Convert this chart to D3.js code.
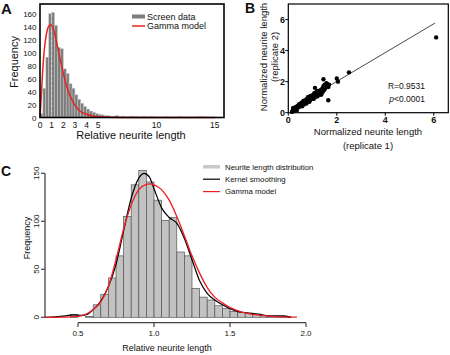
<!DOCTYPE html>
<html><head><meta charset="utf-8">
<script src="https://cdn.jsdelivr.net/npm/d3@7"></script>
<style>
body{margin:0;background:#fff}
svg{display:block}
text{font-family:'Liberation Sans',Arial,Helvetica,sans-serif;fill:#111}
</style>
</head><body>
<svg id="chart" width="450" height="355"></svg>
<script>
// ---------- Panel A data ----------
const binWidthA = 0.25;
const histA = [6, 45, 93, 160, 162, 142, 108, 106, 75, 68, 52, 45, 35, 28, 22, 17, 13, 10, 8, 6, 5, 4, 3, 3, 2, 2, 3, 1, 2, 1, 1, 2, 1, 1, 0, 1, 1, 0, 1, 0, 0, 0, 0, 1, 0, 0, 0, 0, 1, 0, 0, 0, 0, 0, 1, 1, 0, 0, 0, 0];
const gammaAx = [0, 0.1, 0.2, 0.3, 0.45, 0.6, 0.75, 0.9, 1.0, 1.1, 1.25, 1.5, 1.75, 2.0, 2.25, 2.5, 2.75, 3.0, 3.3, 3.6, 4.0, 4.5, 5.0, 6.0, 7.0, 8.0, 10, 15];
const gammaAy = [0, 30, 62, 90, 117, 133, 141, 143, 142, 139, 130, 110, 88, 68, 51, 37, 27, 19, 12, 8, 5, 2.5, 1.2, 0.4, 0.1, 0, 0, 0];
const xTicksA = [0, 1, 2, 3, 4, 5, 10, 15];
const yTicksA = [0, 20, 40, 60, 80, 100, 120, 140, 160];
const legendA = ["Screen data", "Gamma model"];

// ---------- Panel B data ----------
const rep1 = [0.15,0.18,0.2,0.22,0.25,0.27,0.3,0.32,0.35,0.37,0.4,0.42,0.45,0.47,0.5,0.52,0.55,0.57,0.6,0.62,0.65,0.67,0.7,0.72,0.75,0.77,0.8,0.82,0.85,0.87,0.9,0.92,0.95,0.97,1.0,1.02,1.05,1.07,1.1,1.1,1.12,1.15,1.17,1.2,1.22,1.25,1.27,1.3,1.32,1.35,1.37,1.4,1.42,1.45,1.45,1.47,1.5,1.52,1.55,1.57,1.6,1.62,1.65,1.65,1.68,2.0,2.05,2.5,6.1,0.2,0.35,0.28,0.45,0.6,0.75,0.9,1.05,1.2,1.35,0.24,0.4,0.55,0.68,0.84,1.0,1.18,1.3,1.5,1.58];
const rep2 = [0.05,0.12,0.2,0.1,0.28,0.18,0.35,0.22,0.3,0.42,0.33,0.48,0.38,0.52,0.45,0.6,0.5,0.42,0.62,0.75,0.55,0.68,0.8,0.6,0.72,0.9,0.75,1.02,0.82,0.7,0.95,1.08,0.88,1.0,1.12,0.95,1.05,1.25,1.6,1.0,1.15,1.3,1.08,1.2,1.4,1.15,1.3,1.22,1.45,1.3,1.2,1.55,1.35,2.15,1.7,1.45,1.8,1.6,1.75,1.9,1.85,1.7,0.8,1.65,1.8,2.2,2.0,2.6,4.85,0.3,0.15,0.25,0.55,0.5,0.6,0.8,0.9,1.05,1.15,0.16,0.4,0.65,0.7,0.95,1.05,1.35,1.38,1.55,1.72];
const fitX = [0.15, 6.05];
const fitY = [0.3, 5.77];
const ticksB = [0, 2, 4, 6];
const statR = "R=0.9531";
const statP = "<0.0001";

// ---------- Panel C data ----------
const binWidthC = 0.05;
const binStartC = [0.45,0.50,0.55,0.60,0.65,0.70,0.75,0.80,0.85,0.90,0.95,1.00,1.05,1.10,1.15,1.20,1.25,1.30,1.35,1.40,1.45,1.50,1.55,1.60,1.65,1.70,1.75,1.80,1.85];
const countsC = [3,0,1,13,24,41,64,105,138,153,141,122,101,104,68,64,30,21,18,12,9,6,5,4,3,2,1,1,1];
const kernelCx = [0.28,0.35,0.42,0.47,0.52,0.56,0.6,0.65,0.7,0.75,0.8,0.85,0.9,0.935,0.97,1.0,1.05,1.1,1.15,1.2,1.25,1.3,1.35,1.4,1.45,1.5,1.55,1.6,1.65,1.7,1.75,1.8,1.85,1.9];
const kernelCy = [0,0.5,1.5,2.5,2,3,8,17,32,55,90,124,145,150,146,134,114,104,98,82,60,38,25,18,13,9,6,5,4,3,1.5,1.5,1.5,0];
const gammaCx = [0.28,0.4,0.5,0.55,0.6,0.65,0.7,0.75,0.8,0.85,0.9,0.95,0.97,1.0,1.05,1.1,1.15,1.2,1.25,1.3,1.35,1.4,1.45,1.5,1.55,1.6,1.7,1.8,1.94];
const gammaCy = [0,0.2,1,3,8,16,32,60,92,117,133,138.5,139,138,133,122,105,85,64,46,31,21,15,10,7,4.5,2,0.8,0.2];
const xTicksC = [0.5, 1.0, 1.5, 2.0];
const yTicksC = [0, 50, 100, 150];
const legendC = ["Neurite length distribution", "Kernel smoothing", "Gamma model"];

const svg = d3.select("#chart");

// ================= Panel A =================
const xA = d3.scaleLinear().domain([0, 15.8]).range([40, 224]);
const yA = d3.scaleLinear().domain([0, 175]).range([117.5, 4]);
const gA = svg.append("g");
gA.selectAll("rect.bar").data(histA).join("rect")
  .attr("x", (d, i) => xA(i * binWidthA))
  .attr("width", (d, i) => xA((i + 1) * binWidthA) - xA(i * binWidthA))
  .attr("y", d => yA(d))
  .attr("height", d => yA(0) - yA(d))
  .attr("fill", "#7d7d7d").attr("stroke", "#c8c8c8").attr("stroke-width", 0.5);
gA.append("line").attr("x1", xA(1)).attr("x2", xA(1)).attr("y1", yA(0)).attr("y2", yA(162))
  .attr("stroke", "#d8d8d8").attr("stroke-width", 1).attr("stroke-dasharray", "3,2");
const lineA = d3.line().x((d, i) => xA(gammaAx[i])).y(d => yA(d)).curve(d3.curveMonotoneX);
gA.append("path").attr("d", lineA(gammaAy)).attr("fill", "none").attr("stroke", "#e8231c").attr("stroke-width", 1.5);
gA.append("rect").attr("x", xA(0)).attr("y", yA(175)).attr("width", xA(15.8) - xA(0)).attr("height", yA(0) - yA(175))
  .attr("fill", "none").attr("stroke", "#000").attr("stroke-width", 1.6);
gA.selectAll("text.xt").data(xTicksA).join("text")
  .attr("x", d => xA(d)).attr("y", 127.5).attr("text-anchor", "middle").attr("font-size", 8.5).text(d => d);
gA.selectAll("text.yt").data(yTicksA).join("text")
  .attr("x", 36.5).attr("y", d => yA(d) + 3).attr("text-anchor", "end").attr("font-size", 8).text(d => d);
gA.append("text").attr("x", 131).attr("y", 139).attr("text-anchor", "middle").attr("font-size", 11).text("Relative neurite length");
gA.append("text").attr("transform", "translate(18,62) rotate(-90)").attr("text-anchor", "middle").attr("font-size", 11).text("Frequency");
// legend A
gA.append("line").attr("x1", 132).attr("x2", 145).attr("y1", 16.5).attr("y2", 16.5).attr("stroke", "#7d7d7d").attr("stroke-width", 4);
gA.append("line").attr("x1", 132).attr("x2", 145).attr("y1", 26).attr("y2", 26).attr("stroke", "#e8231c").attr("stroke-width", 1.5);
gA.selectAll("text.lg").data(legendA).join("text")
  .attr("x", 147).attr("y", (d, i) => 19.5 + i * 9.5).attr("font-size", 9).text(d => d);
svg.append("text").attr("x", 1).attr("y", 14).attr("font-size", 15).attr("font-weight", "bold").text("A");

// ================= Panel B =================
const xB = d3.scaleLinear().domain([0, 6.6]).range([288.3, 448.3]);
const yB = d3.scaleLinear().domain([0, 7]).range([112.7, 4]);
const gB = svg.append("g");
gB.append("rect").attr("x", xB(0)).attr("y", yB(7)).attr("width", xB(6.6) - xB(0)).attr("height", yB(0) - yB(7))
  .attr("fill", "none").attr("stroke", "#000").attr("stroke-width", 1.2);
gB.append("line").attr("x1", xB(fitX[0])).attr("y1", yB(fitY[0])).attr("x2", xB(fitX[1])).attr("y2", yB(fitY[1]))
  .attr("stroke", "#333").attr("stroke-width", 0.9);
gB.selectAll("circle").data(rep1).join("circle")
  .attr("cx", d => xB(d)).attr("cy", (d, i) => yB(rep2[i])).attr("r", 2.2).attr("fill", "#000");
gB.selectAll("line.xt").data(ticksB).join("line")
  .attr("x1", d => xB(d)).attr("x2", d => xB(d)).attr("y1", yB(0)).attr("y2", yB(0) + 3).attr("stroke", "#000");
gB.selectAll("line.yt").data(ticksB).join("line")
  .attr("x1", xB(0) - 3).attr("x2", xB(0)).attr("y1", d => yB(d)).attr("y2", d => yB(d)).attr("stroke", "#000");
gB.selectAll("text.xt").data(ticksB).join("text")
  .attr("x", d => xB(d)).attr("y", 123).attr("text-anchor", "middle").attr("font-size", 9).attr("font-weight", "bold").text(d => d);
gB.selectAll("text.yt").data(ticksB).join("text")
  .attr("x", 285).attr("y", d => yB(d) + 3.2).attr("text-anchor", "end").attr("font-size", 9).attr("font-weight", "bold").text(d => d);
gB.append("text").attr("x", 368).attr("y", 135).attr("text-anchor", "middle").attr("font-size", 9.5).text("Normalized neurite length");
gB.append("text").attr("x", 368).attr("y", 148.5).attr("text-anchor", "middle").attr("font-size", 9.5).text("(replicate 1)");
gB.append("text").attr("transform", "translate(266.5,57) rotate(-90)").attr("text-anchor", "middle").attr("font-size", 9.5).text("Normalized neurite length");
gB.append("text").attr("transform", "translate(277.5,57) rotate(-90)").attr("text-anchor", "middle").attr("font-size", 9.5).text("(replicate 2)");
gB.append("text").attr("x", 425).attr("y", 89).attr("text-anchor", "end").attr("font-size", 8.5).text(statR);
const pt = gB.append("text").attr("x", 425).attr("y", 102).attr("text-anchor", "end").attr("font-size", 8.5);
pt.append("tspan").attr("font-style", "italic").text("p");
pt.append("tspan").text(statP);
svg.append("text").attr("x", 245).attr("y", 13).attr("font-size", 14).attr("font-weight", "bold").text("B");

// ================= Panel C =================
const xC = d3.scaleLinear().domain([0, 2]).range([2, 306]);
const yC = d3.scaleLinear().domain([0, 150]).range([317.3, 173.3]);
const gC = svg.append("g");
gC.selectAll("rect.bar").data(countsC).join("rect")
  .attr("x", (d, i) => xC(binStartC[i]))
  .attr("width", (d, i) => xC(binStartC[i] + binWidthC) - xC(binStartC[i]))
  .attr("y", d => yC(d)).attr("height", d => yC(0) - yC(d))
  .attr("fill", "#c2c2c2").attr("stroke", "#555").attr("stroke-width", 0.7);
const lineKC = d3.line().x((d, i) => xC(kernelCx[i])).y(d => yC(d)).curve(d3.curveMonotoneX);
const lineGC = d3.line().x((d, i) => xC(gammaCx[i])).y(d => yC(d)).curve(d3.curveMonotoneX);
gC.append("path").attr("d", lineKC(kernelCy)).attr("fill", "none").attr("stroke", "#000").attr("stroke-width", 1.2);
gC.append("path").attr("d", lineGC(gammaCy)).attr("fill", "none").attr("stroke", "#ee1c24").attr("stroke-width", 1.3);
// y axis
gC.append("line").attr("x1", 45).attr("x2", 45).attr("y1", yC(0)).attr("y2", yC(150)).attr("stroke", "#444").attr("stroke-width", 1.3);
gC.selectAll("line.yt").data(yTicksC).join("line")
  .attr("x1", 41).attr("x2", 45).attr("y1", d => yC(d)).attr("y2", d => yC(d)).attr("stroke", "#444").attr("stroke-width", 1.2);
gC.selectAll("text.yt").data(yTicksC).join("text")
  .attr("transform", d => `translate(39,${yC(d)}) rotate(-90)`).attr("text-anchor", "middle").attr("font-size", 8).attr("fill", "#333").text(d => d);
// x axis
gC.append("line").attr("x1", xC(0.5)).attr("x2", xC(2.0)).attr("y1", 322.7).attr("y2", 322.7).attr("stroke", "#444").attr("stroke-width", 1.3);
gC.selectAll("line.xt").data(xTicksC).join("line")
  .attr("x1", d => xC(d)).attr("x2", d => xC(d)).attr("y1", 322.7).attr("y2", 327).attr("stroke", "#444").attr("stroke-width", 1.2);
gC.selectAll("text.xt").data(xTicksC).join("text")
  .attr("x", d => xC(d)).attr("y", 336).attr("text-anchor", "middle").attr("font-size", 8).attr("fill", "#333").text(d => d.toFixed(1));
gC.append("text").attr("x", 167).attr("y", 351).attr("text-anchor", "middle").attr("font-size", 9).attr("fill", "#333").text("Relative neurite length");
gC.append("text").attr("transform", "translate(30,238) rotate(-90)").attr("text-anchor", "middle").attr("font-size", 9).attr("fill", "#333").text("Frequency");
// legend C
const lgC = [{c: "#c8c8c8", w: 3.5}, {c: "#000", w: 1.2}, {c: "#ee1c24", w: 1.2}];
gC.selectAll("line.lg").data(lgC).join("line")
  .attr("x1", 203).attr("x2", 220).attr("y1", (d, i) => 166.8 + i * 12.4).attr("y2", (d, i) => 166.8 + i * 12.4)
  .attr("stroke", d => d.c).attr("stroke-width", d => d.w);
gC.selectAll("text.lg").data(legendC).join("text")
  .attr("x", 225).attr("y", (d, i) => 169.6 + i * 12.4).attr("font-size", 7.8).attr("fill", "#222").text(d => d);
svg.append("text").attr("x", 1).attr("y", 175.5).attr("font-size", 14).attr("font-weight", "bold").text("C");
</script>
</body></html>
